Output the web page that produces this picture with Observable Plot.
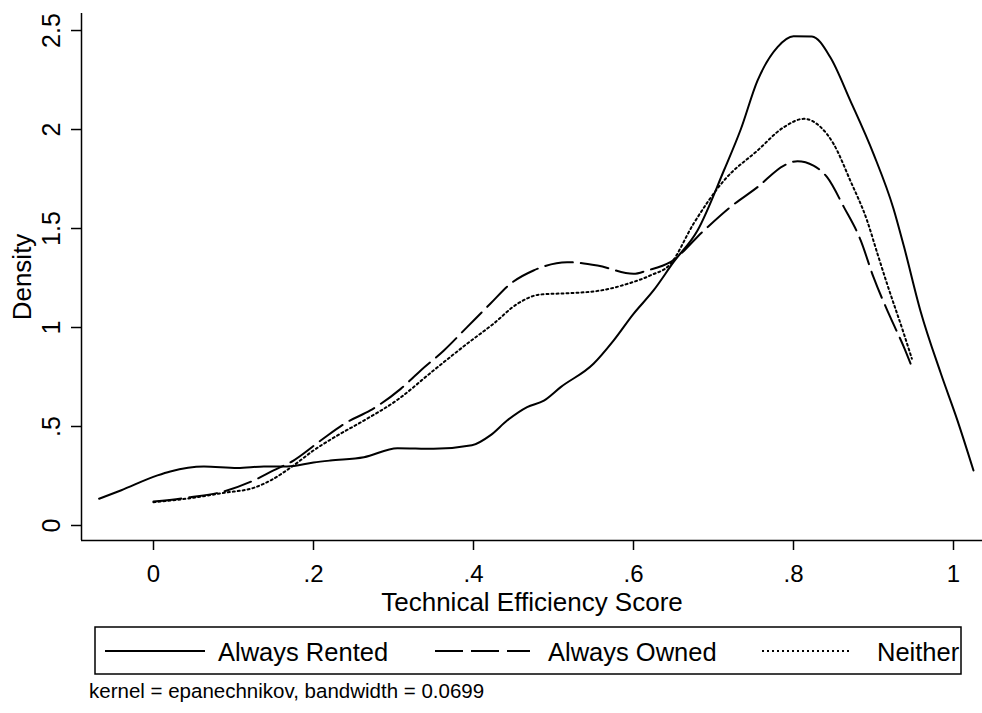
<!DOCTYPE html>
<html>
<head>
<meta charset="utf-8">
<script src="https://cdn.jsdelivr.net/npm/d3@7"></script>
<script src="https://cdn.jsdelivr.net/npm/@observablehq/plot@0.6"></script>
<style>
  html, body { margin: 0; padding: 0; background: white; }
  body { width: 982px; height: 713px; position: relative; overflow: hidden;
         font-family: Arial, "Liberation Sans", sans-serif; color: black; }
  #chart { position: absolute; left: 0; top: 0; }
  #legend { position: absolute; left: 94px; top: 626px; }
  #caption { position: absolute; left: 89px; top: 680px; font-size: 20.5px; line-height: 21px; white-space: nowrap; }
</style>
</head>
<body>
<div id="chart"></div>
<div id="legend"></div>
<div id="caption">kernel = epanechnikov, bandwidth = 0.0699</div>
<script>
// ---- data ----
const rentedX = [-0.068, -0.041, 0.005, 0.021, 0.063, 0.105, 0.138, 0.167, 0.2, 0.221, 0.263, 0.305, 0.35, 0.398, 0.421, 0.442, 0.467, 0.488, 0.509, 0.55, 0.575, 0.6, 0.625, 0.65, 0.68, 0.713, 0.734, 0.755, 0.78, 0.8, 0.823, 0.846, 0.871, 0.9, 0.925, 0.938, 0.959, 0.984, 1.005, 1.025];
const rentedY = [0.135, 0.177, 0.253, 0.273, 0.298, 0.29, 0.298, 0.298, 0.318, 0.328, 0.345, 0.39, 0.387, 0.405, 0.455, 0.53, 0.598, 0.631, 0.699, 0.817, 0.934, 1.069, 1.187, 1.33, 1.49, 1.793, 2.0, 2.247, 2.416, 2.471, 2.47, 2.365, 2.146, 1.877, 1.6, 1.41, 1.08, 0.77, 0.53, 0.278];

const ownedX = [0.0, 0.046, 0.084, 0.125, 0.15, 0.175, 0.209, 0.242, 0.271, 0.309, 0.334, 0.363, 0.392, 0.421, 0.446, 0.475, 0.517, 0.555, 0.6, 0.617, 0.646, 0.688, 0.721, 0.755, 0.788, 0.805, 0.825, 0.842, 0.863, 0.884, 0.9, 0.921, 0.938, 0.948];
const ownedY = [0.121, 0.143, 0.168, 0.227, 0.278, 0.328, 0.429, 0.522, 0.581, 0.69, 0.783, 0.884, 1.002, 1.12, 1.22, 1.288, 1.33, 1.313, 1.271, 1.288, 1.33, 1.49, 1.608, 1.709, 1.818, 1.84, 1.818, 1.759, 1.608, 1.44, 1.254, 1.052, 0.901, 0.8];

const neitherX = [0.0, 0.046, 0.088, 0.125, 0.146, 0.175, 0.2, 0.23, 0.263, 0.305, 0.35, 0.392, 0.425, 0.455, 0.484, 0.517, 0.559, 0.592, 0.621, 0.646, 0.675, 0.713, 0.755, 0.788, 0.813, 0.834, 0.85, 0.871, 0.892, 0.905, 0.917, 0.938, 0.948];
const neitherY = [0.118, 0.138, 0.165, 0.19, 0.227, 0.303, 0.379, 0.455, 0.53, 0.635, 0.783, 0.918, 1.019, 1.12, 1.167, 1.173, 1.187, 1.22, 1.263, 1.32, 1.524, 1.742, 1.894, 2.012, 2.054, 2.012, 1.928, 1.742, 1.54, 1.372, 1.22, 0.968, 0.842];

const seriesNames = ["Always Rented", "Always Owned", "Neither"];
const xTicks = [0, 0.2, 0.4, 0.6, 0.8, 1];
const xTickLabels = ["0", ".2", ".4", ".6", ".8", "1"];
const yTicks = [0, 0.5, 1, 1.5, 2, 2.5];
const yTickLabels = ["0", ".5", "1", "1.5", "2", "2.5"];
const xTitle = "Technical Efficiency Score";
const yTitle = "Density";

// ---- build tables ----
const zip = (xs, ys) => xs.map((x, i) => ({x, y: ys[i]}));
const rented = zip(rentedX, rentedY);
const owned = zip(ownedX, ownedY);
const neither = zip(neitherX, neitherY);

const FONT = 'Arial, "Liberation Sans", sans-serif';
const xDomain = [-0.09, 1.03625];
const yDomain = [-0.0758, 2.586];

const chart = Plot.plot({
  width: 982,
  height: 618,
  marginLeft: 81,
  marginRight: 0,
  marginTop: 13,
  marginBottom: 78,
  x: {domain: xDomain},
  y: {domain: yDomain},
  style: {fontFamily: FONT, fontSize: "24px", background: "white", color: "black", overflow: "visible"},
  marks: [
    Plot.ruleX([xDomain[0]], {stroke: "black", strokeWidth: 1.5}),
    Plot.ruleY([yDomain[0]], {stroke: "black", strokeWidth: 1.5}),
    Plot.axisX(xTicks, {tickSize: 10, tickPadding: 14, strokeWidth: 1.5, fontSize: 24,
      tickFormat: d => xTickLabels[xTicks.indexOf(d)], label: null}),
    Plot.axisY(yTicks, {tickSize: 10, strokeWidth: 1.5, tickFormat: () => "", label: null}),
    Plot.text(yTicks, {y: d => d, text: d => yTickLabels[yTicks.indexOf(d)], frameAnchor: "left",
      dx: -30, rotate: -90, textAnchor: "middle", lineAnchor: "middle", fontSize: 25}),
    Plot.text([xTitle], {frameAnchor: "bottom", dy: 61.7, lineAnchor: "middle", fontSize: 26}),
    Plot.text([yTitle], {frameAnchor: "left", dx: -59, rotate: -90, textAnchor: "middle", lineAnchor: "middle", fontSize: 26}),
    Plot.line(rented, {x: "x", y: "y", stroke: "black", strokeWidth: 2, curve: "monotone-x"}),
    Plot.line(owned, {x: "x", y: "y", stroke: "black", strokeWidth: 2, curve: "monotone-x", strokeDasharray: "28,8"}),
    Plot.line(neither, {x: "x", y: "y", stroke: "black", strokeWidth: 2, curve: "monotone-x", strokeDasharray: "2,3"})
  ]
});
document.getElementById("chart").appendChild(chart);

// ---- legend ----
const lw = 868, lh = 49;
const legend = d3.create("svg").attr("width", lw).attr("height", lh)
  .style("font-family", FONT).style("display", "block");
legend.append("rect").attr("x", 1).attr("y", 1).attr("width", lw - 2).attr("height", lh - 2)
  .attr("fill", "white").attr("stroke", "black").attr("stroke-width", 1.5);
const items = [
  {name: seriesNames[0], x0: 11, x1: 111, tx: 124, dash: null},
  {name: seriesNames[1], x0: 341, x1: 436, tx: 454, dash: "28,8"},
  {name: seriesNames[2], x0: 668, x1: 756, tx: 783, dash: "2,3"}
];
for (const it of items) {
  legend.append("line").attr("x1", it.x0).attr("x2", it.x1).attr("y1", 25).attr("y2", 25)
    .attr("stroke", "black").attr("stroke-width", 2).attr("stroke-dasharray", it.dash);
  legend.append("text").attr("x", it.tx).attr("y", 34.5).attr("font-size", 25.5).attr("fill", "black").text(it.name);
}
document.getElementById("legend").appendChild(legend.node());
</script>
</body>
</html>
